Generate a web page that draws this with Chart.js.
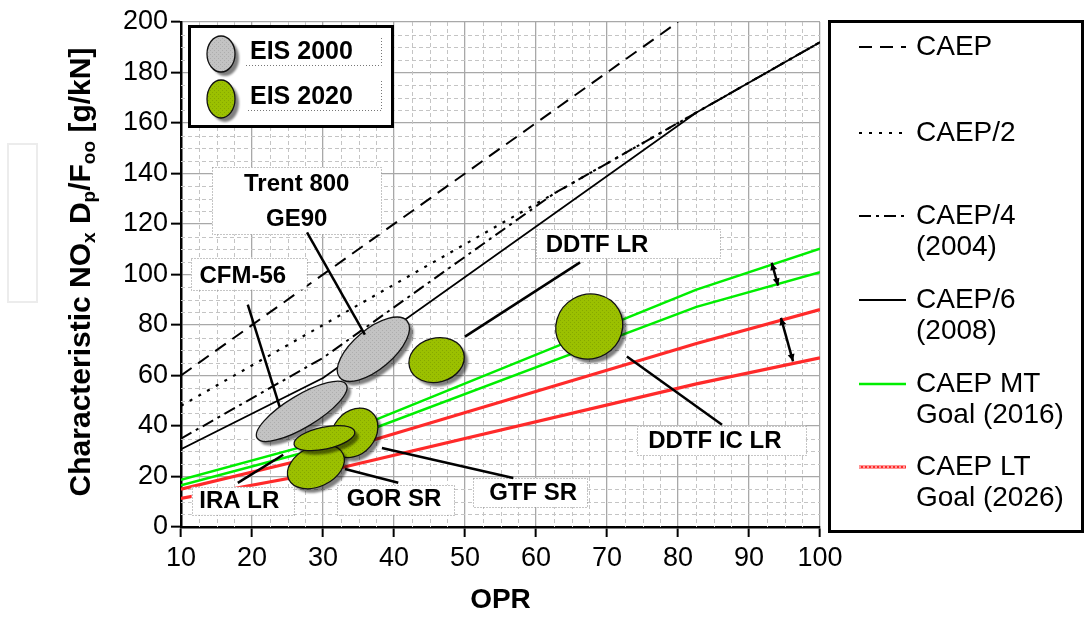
<!DOCTYPE html>
<html>
<head>
<meta charset="utf-8">
<script src="https://cdn.jsdelivr.net/npm/chart.js@4.4.1/dist/chart.umd.min.js"></script>
<style>
  html, body { margin: 0; padding: 0; background: #fff; }
  #wrap { position: relative; width: 1086px; height: 618px; }
</style>
</head>
<body>
<div id="wrap"><canvas id="c" width="1086" height="618"></canvas></div>
<script>
// values (OPR -> characteristic NOx Dp/Foo in g/kN)
const caepOpr = [10, 80];
const caepNox = [60, 200];
const caep2Opr = [10, 100];
const caep2Nox = [48, 192];
const caep4Opr = [10, 30, 62.5, 100];
const caep4Nox = [35, 67, 132, 192];
const caep6Opr = [10, 30, 82.6, 100];
const caep6Nox = [30.8, 59, 164.2, 192];
const goalOpr = [10, 30, 82.6, 100];
const mtHighNox = [18.7, 34, 94, 110.2];
const mtLowNox = [16.5, 31.5, 87.2, 100.9];
const ltHighNox = [15, 28.5, 72.7, 86.1];
const ltLowNox = [11.3, 21.8, 56.7, 67];

const xTicks = [10, 20, 30, 40, 50, 60, 70, 80, 90, 100];
const yTicks = [0, 20, 40, 60, 80, 100, 120, 140, 160, 180, 200];

// engine regions (ellipse centres)
const engineNames = ['Trent 800 / GE90', 'CFM-56', 'DDTF LR', 'DDTF IC LR', 'GTF SR', 'GOR SR', 'IRA LR'];
const engineEis = [2000, 2000, 2020, 2020, 2020, 2020, 2020];
const engineOpr = [37.1, 27, 46, 67.5, 34.4, 29, 30.2];
const engineNox = [70.4, 45.8, 66.1, 79.4, 37.3, 23.9, 35.2];

const legendLabels = [['CAEP'], ['CAEP/2'], ['CAEP/4', '(2004)'], ['CAEP/6', '(2008)'], ['CAEP MT', 'Goal (2016)'], ['CAEP LT', 'Goal (2026)']];

const FONT = "'Liberation Sans', Arial, sans-serif";

// ellipse shapes in px: semi-major, semi-minor, rotation (deg)
const engineShape = [[44, 20, -40], [52, 16, -31], [28, 22, -15], [34, 32, -30], [27, 21, -50], [30, 20, -25], [31, 11, -12]];

// label boxes (data coords) and text anchors
const labelBoxes = [
  { x1: 14.4, y1: 142.5, x2: 38.2, y2: 115.9, lines: ['Trent 800', 'GE90'], tx: 26.3, ty: [135.7, 121.8] },
  { x1: 11.4, y1: 106.7, x2: 27.7, y2: 94.0, lines: ['CFM-56'], tx: 18.7, ty: [99.2] },
  { x1: 60.0, y1: 117.9, x2: 85.9, y2: 106.3, lines: ['DDTF LR'], tx: 68.6, ty: [111.4] },
  { x1: 74.2, y1: 40.1, x2: 98.0, y2: 28.6, lines: ['DDTF IC LR'], tx: 85.2, ty: [34.0] },
  { x1: 51.1, y1: 19.4, x2: 67.2, y2: 7.9, lines: ['GTF SR'], tx: 59.6, ty: [13.4] },
  { x1: 32.0, y1: 16.7, x2: 48.5, y2: 4.8, lines: ['GOR SR'], tx: 40.0, ty: [10.8] },
  { x1: 11.5, y1: 15.9, x2: 25.8, y2: 4.8, lines: ['IRA LR'], tx: 18.2, ty: [10.2] }
];
const leaders = [
  [27.75, 116.7, 35.9, 76.2],
  [19.4, 88.1, 23.9, 47.6],
  [50.0, 75.4, 66.2, 104.8],
  [72.8, 67.5, 86.2, 40.5],
  [38.3, 31.3, 56.8, 19.4],
  [33.1, 23.0, 40.6, 17.5],
  [18.0, 17.5, 24.4, 28.6]
];
const arrows = [[93.2, 104.6, 94.1, 95.6], [94.5, 82.8, 96.2, 65.6]];

function pts(xs, ys) { return xs.map((x, i) => ({ x: x, y: ys[i] })); }

const GREEN = '#00ee00';
const RED = '#ff2a2a';
const CHAIN = 'rgba(255,215,215,1)';

const styles = [
  { color: '#000', width: 2, dash: [13, 8] },
  { color: '#000', width: 2.2, dash: [3, 7] },
  { color: '#000', width: 2, dash: [12, 5, 3, 5] },
  { color: '#000', width: 1.8, dash: [] },
  { color: GREEN, width: 2.5, dash: [] },
  { color: RED, width: 3.2, dash: [] }
];

function ds(data, st) {
  return { data: data, borderColor: st.color, borderWidth: st.width, borderDash: st.dash, pointRadius: 0, fill: false, tension: 0 };
}

const datasets = [
  ds(pts(caepOpr, caepNox), styles[0]),
  ds(pts(caep2Opr, caep2Nox), styles[1]),
  ds(pts(caep4Opr, caep4Nox), styles[2]),
  ds(pts(caep6Opr, caep6Nox), styles[3]),
  ds(pts(goalOpr, mtHighNox), styles[4]),
  ds(pts(goalOpr, mtLowNox), styles[4]),
  ds(pts(goalOpr, ltHighNox), styles[5]),
  ds(pts(goalOpr, ltLowNox), styles[5]),
  // chain texture on the LT goal lines
  ds(pts(goalOpr, ltHighNox), { color: CHAIN, width: 1.3, dash: [2, 2] }),
  ds(pts(goalOpr, ltLowNox), { color: CHAIN, width: 1.3, dash: [2, 2] })
];

function stipple(ctx, base, dot) {
  const c = document.createElement('canvas');
  c.width = 4; c.height = 4;
  const g = c.getContext('2d');
  g.fillStyle = base; g.fillRect(0, 0, 4, 4);
  g.fillStyle = dot; g.fillRect(0, 0, 1, 1); g.fillRect(2, 2, 1, 1);
  return ctx.createPattern(c, 'repeat');
}

function drawEllipse(ctx, cx, cy, a, b, rot, fill) {
  ctx.save();
  ctx.beginPath();
  ctx.ellipse(cx, cy, a, b, rot * Math.PI / 180, 0, Math.PI * 2);
  ctx.shadowColor = 'rgba(0,0,0,0.5)';
  ctx.shadowOffsetX = 4; ctx.shadowOffsetY = 4; ctx.shadowBlur = 2;
  ctx.fillStyle = fill;
  ctx.fill();
  ctx.shadowColor = 'transparent';
  ctx.lineWidth = 1.3; ctx.strokeStyle = '#111';
  ctx.stroke();
  ctx.restore();
}

function arrowHead(ctx, x1, y1, x2, y2, len) {
  const ang = Math.atan2(y2 - y1, x2 - x1);
  ctx.beginPath();
  ctx.moveTo(x2, y2);
  ctx.lineTo(x2 - len * Math.cos(ang - 0.45), y2 - len * Math.sin(ang - 0.45));
  ctx.lineTo(x2 - len * Math.cos(ang + 0.45), y2 - len * Math.sin(ang + 0.45));
  ctx.closePath();
  ctx.fill();
}

function sampleLine(ctx, x1, x2, y, i) {
  const st = styles[i];
  ctx.save();
  ctx.beginPath();
  ctx.moveTo(x1, y); ctx.lineTo(x2, y);
  ctx.strokeStyle = st.color; ctx.lineWidth = st.width; ctx.setLineDash(st.dash);
  ctx.stroke();
  if (i === 5) {
    ctx.beginPath();
    ctx.moveTo(x1, y); ctx.lineTo(x2, y);
    ctx.strokeStyle = CHAIN; ctx.lineWidth = 1.3; ctx.setLineDash([2, 2]);
    ctx.stroke();
  }
  ctx.restore();
}

const whiteBg = {
  id: 'whiteBg',
  beforeDraw(chart) {
    const ctx = chart.ctx;
    ctx.save();
    ctx.fillStyle = '#fff';
    ctx.fillRect(0, 0, chart.width, chart.height);
    // faint frame in the left margin of the original figure
    ctx.strokeStyle = '#ececec'; ctx.lineWidth = 2;
    ctx.strokeRect(8, 144, 29, 158);
    ctx.restore();
  }
};

const minorGrid = {
  id: 'minorGrid',
  beforeDatasetsDraw(chart) {
    const { ctx, chartArea: a, scales: { x, y } } = chart;
    ctx.save();
    ctx.strokeStyle = '#c4c4c4'; ctx.lineWidth = 1; ctx.setLineDash([4, 3]);
    for (let v = x.min; v < x.max; v += 2.5) {
      if (v % 10 === 0) continue;
      const px = Math.round(x.getPixelForValue(v)) + 0.5;
      ctx.beginPath(); ctx.moveTo(px, a.top); ctx.lineTo(px, a.bottom); ctx.stroke();
    }
    for (let v = y.min; v < y.max; v += 5) {
      if (v % 20 === 0) continue;
      const py = Math.round(y.getPixelForValue(v)) + 0.5;
      ctx.beginPath(); ctx.moveTo(a.left, py); ctx.lineTo(a.right, py); ctx.stroke();
    }
    ctx.restore();
  }
};

const annotations = {
  id: 'annotations',
  afterDatasetsDraw(chart) {
    const { ctx, scales: { x, y } } = chart;
    const grayFill = stipple(ctx, '#c3c3c3', '#adadad');
    const greenFill = stipple(ctx, '#9bc000', '#86a800');

    // engine regions
    engineOpr.forEach((o, i) => {
      const s = engineShape[i];
      drawEllipse(ctx, x.getPixelForValue(o), y.getPixelForValue(engineNox[i]), s[0], s[1], s[2],
        engineEis[i] === 2000 ? grayFill : greenFill);
    });

    // label boxes
    ctx.save();
    labelBoxes.forEach(b => {
      const x1 = x.getPixelForValue(b.x1), x2 = x.getPixelForValue(b.x2);
      const y1 = y.getPixelForValue(b.y1), y2 = y.getPixelForValue(b.y2);
      ctx.fillStyle = '#fff';
      ctx.fillRect(x1, y1, x2 - x1, y2 - y1);
      ctx.setLineDash([1, 2]); ctx.strokeStyle = '#8a8a8a'; ctx.lineWidth = 1;
      ctx.strokeRect(Math.round(x1) + 0.5, Math.round(y1) + 0.5, Math.round(x2 - x1), Math.round(y2 - y1));
      ctx.setLineDash([]);
      ctx.fillStyle = '#000';
      ctx.font = 'bold 24px ' + FONT;
      ctx.textAlign = 'center'; ctx.textBaseline = 'middle';
      b.lines.forEach((t, k) => ctx.fillText(t, x.getPixelForValue(b.tx), y.getPixelForValue(b.ty[k])));
    });

    // leader lines
    ctx.strokeStyle = '#000'; ctx.lineWidth = 2.5; ctx.lineCap = 'butt';
    leaders.forEach(l => {
      ctx.beginPath();
      ctx.moveTo(x.getPixelForValue(l[0]), y.getPixelForValue(l[1]));
      ctx.lineTo(x.getPixelForValue(l[2]), y.getPixelForValue(l[3]));
      ctx.stroke();
    });

    // double arrows between goal bands
    ctx.fillStyle = '#000'; ctx.lineWidth = 2.5;
    arrows.forEach(r => {
      const ax = x.getPixelForValue(r[0]), ay = y.getPixelForValue(r[1]);
      const bx = x.getPixelForValue(r[2]), by = y.getPixelForValue(r[3]);
      ctx.beginPath(); ctx.moveTo(ax, ay); ctx.lineTo(bx, by); ctx.stroke();
      arrowHead(ctx, ax, ay, bx, by, 8);
      arrowHead(ctx, bx, by, ax, ay, 8);
    });
    ctx.restore();
  },
  afterDraw(chart) {
    const ctx = chart.ctx;
    const grayFill = stipple(ctx, '#c3c3c3', '#adadad');
    const greenFill = stipple(ctx, '#9bc000', '#86a800');

    // EIS key
    ctx.save();
    ctx.fillStyle = '#fff';
    ctx.fillRect(189, 26, 203, 100);
    ctx.strokeStyle = '#000'; ctx.lineWidth = 3;
    ctx.strokeRect(189.5, 26.5, 203, 100);
    ctx.restore();
    drawEllipse(ctx, 221, 54, 14, 18, 0, grayFill);
    drawEllipse(ctx, 221, 99, 14, 19, 0, greenFill);
    ctx.save();
    ctx.fillStyle = '#000';
    ctx.font = 'bold 25px ' + FONT;
    ctx.textAlign = 'left'; ctx.textBaseline = 'middle';
    ctx.fillText('EIS 2000', 250, 52);
    ctx.fillText('EIS 2020', 250, 97);
    ctx.setLineDash([1, 2]); ctx.strokeStyle = '#777'; ctx.lineWidth = 1;
    ctx.beginPath();
    ctx.moveTo(246, 65.5); ctx.lineTo(381.5, 65.5); ctx.lineTo(381.5, 37);
    ctx.moveTo(248, 110.5); ctx.lineTo(381.5, 110.5); ctx.lineTo(381.5, 80);
    ctx.stroke();
    ctx.restore();

    // y axis title with subscripts
    ctx.save();
    ctx.translate(79, 272);
    ctx.rotate(-Math.PI / 2);
    const big = 'bold 30px ' + FONT, small = 'bold 19px ' + FONT;
    const parts = [['Characteristic NO', 0], ['x', 1], [' D', 0], ['p', 1], ['/F', 0], ['oo', 1], [' [g/kN]', 0]];
    let total = 0;
    parts.forEach(p => { ctx.font = p[1] ? small : big; total += ctx.measureText(p[0]).width; });
    let cx = -total / 2;
    ctx.fillStyle = '#000'; ctx.textBaseline = 'alphabetic'; ctx.textAlign = 'left';
    parts.forEach(p => {
      ctx.font = p[1] ? small : big;
      ctx.fillText(p[0], cx, p[1] ? 16 : 11);
      cx += ctx.measureText(p[0]).width;
    });
    ctx.restore();

    // series key on the right
    ctx.save();
    ctx.fillStyle = '#fff';
    ctx.fillRect(829, 21, 253, 511);
    ctx.strokeStyle = '#000'; ctx.lineWidth = 3;
    ctx.strokeRect(829.5, 21.5, 253, 510);
    const rows = [47, 133, 216, 300, 384, 467];
    ctx.font = '28px ' + FONT;
    ctx.fillStyle = '#000'; ctx.textAlign = 'left'; ctx.textBaseline = 'middle';
    legendLabels.forEach((lab, i) => {
      sampleLine(ctx, 859, 906, rows[i], i);
      lab.forEach((t, k) => ctx.fillText(t, 916, rows[i] + k * 31));
    });
    ctx.restore();
  }
};

new Chart(document.getElementById('c'), {
  type: 'line',
  data: { datasets: datasets },
  options: {
    responsive: false,
    animation: false,
    layout: { padding: { top: 22, right: 266, bottom: 0, left: 0 } },
    plugins: { legend: { display: false }, tooltip: { enabled: false } },
    scales: {
      x: {
        type: 'linear', min: 10, max: 100,
        afterBuildTicks: s => { s.ticks = xTicks.map(v => ({ value: v })); },
        afterFit: s => { s.height = 91; s.paddingLeft = 0; s.paddingRight = 0; },
        ticks: { color: '#000', font: { family: FONT, size: 27 }, padding: 5, maxRotation: 0, autoSkip: false },
        grid: { color: '#a8a8a8', lineWidth: 1.3, tickColor: '#000', tickWidth: 2, tickLength: 10 },
        border: { color: '#000', width: 2.5 },
        title: { display: true, text: 'OPR', color: '#000', font: { family: FONT, size: 28, weight: 'bold' }, padding: { top: 0, bottom: 1 } }
      },
      y: {
        type: 'linear', min: 0, max: 200,
        afterBuildTicks: s => { s.ticks = yTicks.map(v => ({ value: v })); },
        afterFit: s => { s.width = 181; s.paddingTop = 0; s.paddingBottom = 0; },
        ticks: { color: '#000', font: { family: FONT, size: 27 }, padding: 3, autoSkip: false },
        grid: { color: '#a8a8a8', lineWidth: 1.3, tickColor: '#000', tickWidth: 2, tickLength: 10 },
        border: { color: '#000', width: 2.5 }
      }
    }
  },
  plugins: [whiteBg, minorGrid, annotations]
});
</script>
</body>
</html>
